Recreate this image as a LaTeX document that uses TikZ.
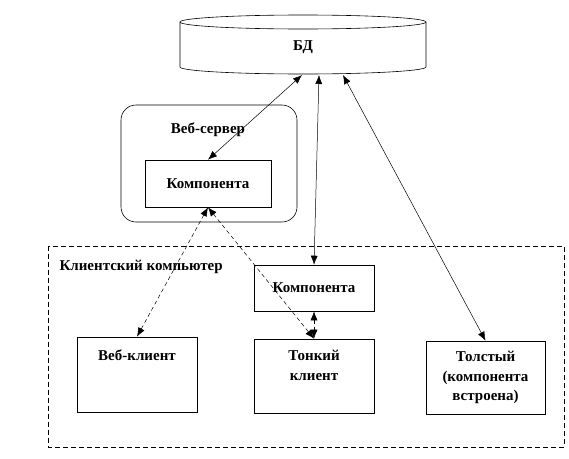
\documentclass[tikz,border=0pt]{standalone}
\usepackage{fontspec}
\setmainfont{Liberation Serif}
\usetikzlibrary{arrows.meta}
\begin{document}
\begin{tikzpicture}[x=1pt, y=-1pt,
  every node/.style={font=\bfseries\fontsize{15}{19.5}\selectfont},
  box/.style={draw, line width=0.6pt, inner sep=0pt},
  link/.style={line width=0.5pt, {Latex[length=9pt,width=7pt]}-{Latex[length=9pt,width=7pt]}},
  dlink/.style={link, dash pattern=on 4pt off 3pt}]
\useasboundingbox (0, 0) rectangle (569, 458);

% database
\draw[line width=0.6pt] (180, 22) -- (180, 67) arc[start angle=180, end angle=0, x radius=123, y radius=7] -- (426, 22);
\draw[line width=0.6pt] (303, 22) ellipse[x radius=123, y radius=7];
\node[inner sep=0pt, minimum width=246, minimum height=60] (bd) at (303, 45) {};
\node (bdlabel) at (303, 47) {БД};
\coordinate (bd1) at (302, 75);
\coordinate (bd2) at (319, 75);
\coordinate (bd3) at (343, 75);

% web server
\draw[line width=0.6pt, rounded corners=15] (121, 105) rectangle (297, 222);
\node (wslabel) at (208, 130) {Веб-сервер};
\node[box, minimum width=126, minimum height=47] (k1) at (208, 183.5) {Компонента};

% client computer
\draw[line width=0.6pt, dash pattern=on 5pt off 3pt] (48, 246) rectangle (564, 447);
\node[anchor=west] (cclabel) at (56, 267) {Клиентский компьютер};
\node[box, minimum width=120, minimum height=46] (k2) at (314, 288) {Компонента};
\node[box, minimum width=120, minimum height=75] (web) at (137, 374.5) {};
\node[anchor=north] (weblabel) at (137, 346) {Веб-клиент};
\node[box, minimum width=120, minimum height=74] (thin) at (314, 376) {};
\node[anchor=north, align=center] (thinlabel) at (314, 347) {Тонкий\\клиент};
\node[box, minimum width=119, minimum height=73] (fat) at (485.5, 377.5) {};
\node[anchor=north, align=center] (fatlabel) at (485.5, 348) {Толстый\\(компонента\\встроена)};

% links
\draw[link] (bd1) -- (k1.north);
\draw[link] (bd2) -- (k2.north);
\draw[link] (bd3) -- (fat.north);
\draw[dlink] (k1.south) -- (web.north);
\draw[dlink] (k1.south) -- (thin.north);
\draw[dlink] (k2.south) -- (thin.north);

\end{tikzpicture}
\end{document}
